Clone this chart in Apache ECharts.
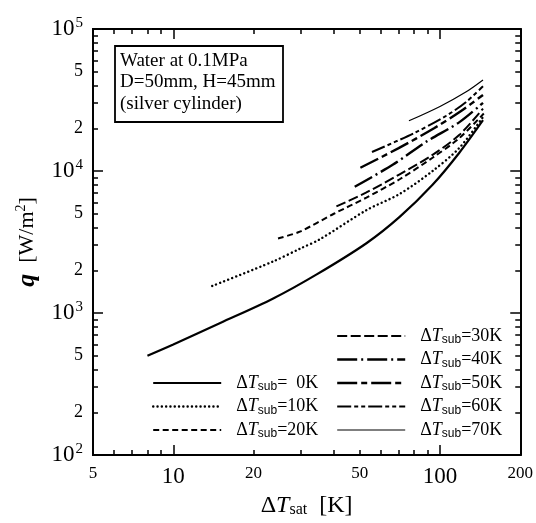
<!DOCTYPE html>
<html><head><meta charset="utf-8">
<script src="https://cdn.jsdelivr.net/npm/echarts@6/dist/echarts.min.js"></script>
<style>html,body{margin:0;padding:0;background:#fff}#c{width:536px;height:523px}</style>
</head><body><div id="c"></div>
<script>
// ---- data ----
const seriesNames = ['0K','10K','20K','30K','40K','50K','60K','70K'];
const x0K  = [8, 10, 15, 23.6, 34.5, 53, 70.6, 93.8, 118, 145];
const q0K  = [500, 600, 850, 1260, 1870, 3100, 4750, 8000, 13400, 22800];
const x10K = [14, 23.6, 30, 35.4, 53, 70.6, 93.8, 118, 145];
const q10K = [1550, 2300, 2850, 3300, 5300, 6900, 10000, 14500, 24000];
const x20K = [24.7, 29.8, 40, 53, 70.6, 93.8, 118, 146];
const q20K = [3350, 3740, 5000, 6500, 8750, 12400, 17000, 25400];
const x30K = [40.9, 53, 70.6, 93.8, 118, 145];
const q30K = [5630, 7070, 9470, 13000, 17900, 27500];
const x40K = [47.9, 66.7, 88.9, 118, 145];
const q40K = [7750, 11100, 16100, 22000, 30200];
const x50K = [50.3, 70, 95, 120, 145];
const q50K = [10540, 14500, 20000, 26500, 34300];
const x60K = [55.6, 80, 105.6, 125, 145];
const q60K = [13600, 18500, 24500, 30500, 39500];
const x70K = [76.5, 100, 125, 145];
const q70K = [22570, 28500, 36000, 43800];

const xLabelValues = [5, 10, 20, 50, 100, 200];
const xMinorTicks = [5, 6, 7, 8, 9, 20, 30, 40, 50, 60, 70, 80, 90, 200];
const xMajorTicks = [10, 100];
const yLabelValues = [100, 200, 500, 1000, 2000, 5000, 10000, 20000, 50000, 100000];
const yMinorTicks = [200,300,400,500,600,700,800,900,2000,3000,4000,5000,6000,7000,8000,9000,20000,30000,40000,50000,60000,70000,80000,90000];
const yMajorTicks = [100, 1000, 10000, 100000];

const annotationLines = ['Water at 0.1MPa', 'D=50mm, H=45mm', '(silver cylinder)'];

// ---- build ----
const xs = [x0K, x10K, x20K, x30K, x40K, x50K, x60K, x70K];
const qs = [q0K, q10K, q20K, q30K, q40K, q50K, q60K, q70K];
const styles = [
  {width: 2.2, type: 'solid'},
  {width: 2.4, type: [0.1, 4.2], cap: 'round'},
  {width: 2, type: [6, 3.5]},
  {width: 2, type: [10, 3.5]},
  {width: 2.4, type: [20, 4, 2, 4]},
  {width: 2.4, type: [20, 4, 6, 4]},
  {width: 2, type: [14, 3, 4, 3, 4, 3]},
  {width: 1.2, type: 'solid'}
];
const SERIF = '"Liberation Serif", "DejaVu Serif", serif';

const series = seriesNames.map((n, i) => ({
  name: n, type: 'line', xAxisIndex: 0, yAxisIndex: 0,
  data: xs[i].map((x, j) => [x, qs[i][j]]),
  smooth: 0.3, symbol: 'none', animation: false,
  lineStyle: Object.assign({color: '#000'}, styles[i]),
  itemStyle: {color: '#000'}
}));

function near(v, arr) { return arr.some(a => Math.abs(v - a) / a < 1e-6); }

function xAx(pos, ticks, len, labels) {
  return {
    type: 'log', logBase: 10, min: 5, max: 200, position: pos,
    axisLine: {show: true, lineStyle: {color: '#000', width: 1.8}},
    axisTick: {show: true, inside: true, length: len, customValues: ticks, lineStyle: {color: '#000', width: 1.5}},
    axisLabel: labels ? {
      show: true, customValues: xLabelValues, margin: 10, color: '#000',
      formatter: v => (near(v, [10, 100]) ? '{b|' : '{s|') + Math.round(v) + '}',
      rich: {b: {fontFamily: SERIF, fontSize: 23, color: '#000'}, s: {fontFamily: SERIF, fontSize: 17, color: '#000'}}
    } : {show: false},
    splitLine: {show: false}, minorTick: {show: false}
  };
}
function yAx(pos, ticks, len, labels) {
  return {
    type: 'log', logBase: 10, min: 100, max: 100000, position: pos,
    axisLine: {show: true, lineStyle: {color: '#000', width: 1.8}},
    axisTick: {show: true, inside: true, length: len, customValues: ticks, lineStyle: {color: '#000', width: 1.5}},
    axisLabel: labels ? {
      show: true, customValues: yLabelValues, margin: 10, color: '#000',
      formatter: v => {
        const e = Math.round(Math.log10(v));
        if (Math.abs(v - Math.pow(10, e)) / v < 1e-6) return '{b|10}{p|' + e + '}';
        return '{s|' + Math.round(v / Math.pow(10, Math.floor(Math.log10(v) + 1e-9))) + '}';
      },
      rich: {
        b: {fontFamily: SERIF, fontSize: 23, color: '#000', lineHeight: 26},
        p: {fontFamily: SERIF, fontSize: 15, color: '#000', verticalAlign: 'top', lineHeight: 26, padding: [0, 0, 13, 1]},
        s: {fontFamily: SERIF, fontSize: 18, color: '#000'}
      }
    } : {show: false},
    splitLine: {show: false}, minorTick: {show: false}
  };
}

const legendRich = {
  d: {fontFamily: SERIF, fontSize: 18, color: '#000'},
  t: {fontFamily: SERIF, fontSize: 18, fontStyle: 'italic', color: '#000'},
  s: {fontFamily: '"Liberation Sans", Arial, sans-serif', fontSize: 12, color: '#000', verticalAlign: 'bottom', padding: [6, 0, 0, 0]},
  e: {fontFamily: SERIF, fontSize: 18, color: '#000'}
};
const legendFmt = n => '{d|Δ}{t|T}{s|sub}{e|=' + (n === '0K' ? '  0K' : n) + '}';
function legend(left, top, names) {
  return {
    orient: 'vertical', left: left, top: top, data: names,
    itemWidth: 68, itemHeight: 14, itemGap: 3.5, padding: 0,
    selectedMode: false,
    itemStyle: {opacity: 0},
    lineStyle: {width: 'inherit'},
    formatter: legendFmt,
    textStyle: {rich: legendRich, lineHeight: 20, padding: [0, 0, 0, 10]}
  };
}

const chart = echarts.init(document.getElementById('c'), null, {renderer: 'canvas'});
chart.setOption({
  backgroundColor: '#fff',
  animation: false,
  grid: {left: 93, right: 15, top: 29, bottom: 61, containLabel: false},
  xAxis: [
    Object.assign(xAx('bottom', xMinorTicks, 5, true), {
      name: '{d|Δ}{t|T}{s|sat}{k|  [K]}', nameLocation: 'middle', nameGap: 38,
      nameTextStyle: {rich: {
        d: {fontFamily: SERIF, fontSize: 24, color: '#000'},
        t: {fontFamily: SERIF, fontSize: 24, fontStyle: 'italic', color: '#000'},
        s: {fontFamily: SERIF, fontSize: 16, color: '#000', verticalAlign: 'bottom', padding: [9, 0, 0, 0]},
        k: {fontFamily: SERIF, fontSize: 24, color: '#000'}
      }}
    }),
    xAx('bottom', xMajorTicks, 10, false),
    xAx('top', xMinorTicks, 5, false),
    xAx('top', xMajorTicks, 10, false)
  ],
  yAxis: [
    Object.assign(yAx('left', yMinorTicks, 5, true), {
      name: '{q|q}{u|  [W/m}{p|2}{u|]}', nameLocation: 'middle', nameGap: 52, nameRotate: 90,
      nameTextStyle: {rich: {
        q: {fontFamily: SERIF, fontSize: 26, fontStyle: 'italic', fontWeight: 'bold', color: '#000'},
        u: {fontFamily: SERIF, fontSize: 22, color: '#000'},
        p: {fontFamily: SERIF, fontSize: 14, color: '#000', verticalAlign: 'top', padding: [0, 0, 12, 0]}
      }}
    }),
    yAx('left', yMajorTicks, 10, false),
    yAx('right', yMinorTicks, 5, false),
    yAx('right', yMajorTicks, 10, false)
  ],
  legend: [
    legend(152, 373, ['0K', '10K', '20K']),
    legend(336, 326, ['30K', '40K', '50K', '60K', '70K'])
  ],
  graphic: [
    {type: 'rect', shape: {x: 115, y: 46, width: 168, height: 76},
     style: {fill: 'none', stroke: '#000', lineWidth: 1.8}},
    {type: 'text', x: 120, y: 50,
     style: {text: annotationLines.join('\n'), font: '19px ' + SERIF, fill: '#000', lineHeight: 21.5}}
  ],
  series: series
});
</script></body></html>
